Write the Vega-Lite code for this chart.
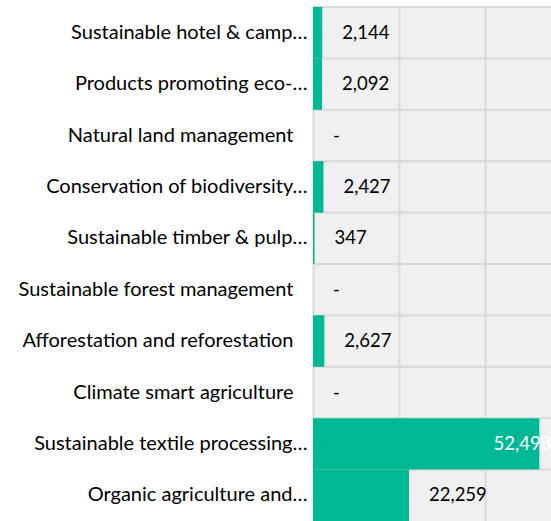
{
  "$schema": "https://vega.github.io/schema/vega-lite/v6.json",
  "width": 238,
  "height": 514,
  "autosize": {"type": "none"},
  "padding": {"left": 313, "top": 7, "right": 0, "bottom": 0},
  "background": "white",
  "config": {
    "view": {"fill": "#f0f0f0", "stroke": null},
    "font": "Lato"
  },
  "data": {
    "values": [
      {"category": "Sustainable hotel & camp…", "value": 2144, "label": "2,144"},
      {"category": "Products promoting eco-…", "value": 2092, "label": "2,092"},
      {"category": "Natural land management", "value": 0, "label": "-"},
      {"category": "Conservation of biodiversity…", "value": 2427, "label": "2,427"},
      {"category": "Sustainable timber & pulp…", "value": 347, "label": "347"},
      {"category": "Sustainable forest management", "value": 0, "label": "-"},
      {"category": "Afforestation and reforestation", "value": 2627, "label": "2,627"},
      {"category": "Climate smart agriculture", "value": 0, "label": "-"},
      {"category": "Sustainable textile processing…", "value": 52498, "label": "52,498"},
      {"category": "Organic agriculture and…", "value": 22259, "label": "22,259"}
    ]
  },
  "encoding": {
    "y": {
      "field": "category",
      "type": "nominal",
      "sort": null,
      "scale": {"paddingInner": 0, "paddingOuter": 0},
      "axis": {
        "title": null,
        "domain": false,
        "ticks": false,
        "grid": false,
        "labelFont": "Lato",
        "labelFontSize": 20,
        "labelColor": "#000000",
        "labelPadding": {"condition": {"test": "indexof(datum.value, '…') >= 0", "value": 6}, "value": 20},
        "labelLimit": 320
      }
    }
  },
  "layer": [
    {
      "mark": {"type": "rule", "color": "#d9d9d9", "strokeWidth": 2},
      "encoding": {
        "y": {"field": "category", "type": "nominal", "sort": null, "bandPosition": 0}
      }
    },
    {
      "mark": {"type": "bar", "color": "#00b894"},
      "encoding": {
        "x": {
          "field": "value",
          "type": "quantitative",
          "scale": {"domain": [0, 55200], "nice": false, "zero": true},
          "axis": {
            "title": null,
            "labels": false,
            "ticks": false,
            "domain": false,
            "grid": true,
            "gridColor": "#d9d9d9",
            "gridWidth": 2,
            "values": [0, 20000, 40000]
          }
        }
      }
    },
    {
      "transform": [{"filter": "datum.value < 40000"}],
      "mark": {"type": "text", "align": "left", "baseline": "middle", "dx": 20, "font": "Lato", "fontSize": 18.5, "color": "#000000"},
      "encoding": {
        "x": {"field": "value", "type": "quantitative"},
        "text": {"field": "label"}
      }
    },
    {
      "transform": [{"filter": "datum.value >= 40000"}],
      "mark": {"type": "text", "align": "right", "baseline": "middle", "dx": 12, "font": "Lato", "fontSize": 18.5, "color": "#ffffff"},
      "encoding": {
        "x": {"field": "value", "type": "quantitative"},
        "text": {"field": "label"}
      }
    }
  ]
}
